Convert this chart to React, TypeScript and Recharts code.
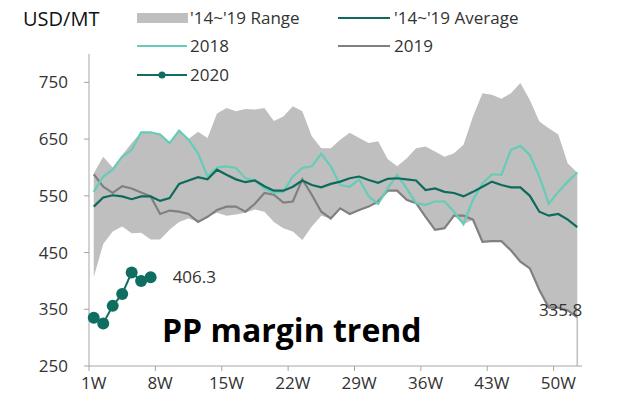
import React from "react";
import { ComposedChart, Area, Line, XAxis, YAxis, ReferenceLine, LabelList } from "recharts";

// week numbers (categories)
const weeks = [
  1, 2, 3, 4, 5, 6, 7, 8, 9, 10, 11, 12, 13, 14, 15, 16, 17, 18, 19, 20, 21, 22, 23, 24, 25, 26,
  27, 28, 29, 30, 31, 32, 33, 34, 35, 36, 37, 38, 39, 40, 41, 42, 43, 44, 45, 46, 47, 48, 49, 50, 51, 52,
];

// '14~'19 range, low and high
const rangeMin = [
  407, 465, 487, 496, 484, 485, 473, 473, 490, 504, 510, 504, 513, 520, 515, 517, 520, 526, 522, 504, 493, 487, 472, 496, 515, 510,
  528, 518, 525, 531, 536, 559, 559, 543, 537, 513, 490, 493, 515, 500, 508, 469, 470, 470, 454, 434, 422, 384, 353, 353, 348, 335.8,
];
const rangeMax = [
  590, 619, 600, 622, 643, 662, 662, 658, 645, 665, 650, 663, 652, 695, 705, 699, 703, 702, 705, 682, 690, 708, 699, 655, 634, 634,
  649, 661, 652, 643, 646, 615, 602, 616, 634, 637, 628, 619, 625, 640, 690, 731, 728, 721, 731, 749, 719, 681, 669, 658, 607, 591,
];

const avg = [
  531, 547, 551, 549, 544, 549, 549, 541, 546, 571, 577, 583, 579, 596, 587, 579, 574, 577, 567, 559, 559, 566, 577, 569, 565, 571,
  575, 581, 584, 578, 573, 580, 581, 579, 577, 560, 563, 557, 555, 549, 557, 566, 575, 569, 565, 565, 550, 522, 515, 518, 508, 495,
];

const y2018 = [
  557, 584, 596, 619, 631, 662, 662, 658, 643, 665, 649, 625, 584, 600, 602, 599, 581, 577, 563, 555, 557, 584, 599, 602, 624, 602,
  569, 566, 579, 549, 536, 563, 587, 563, 537, 534, 540, 540, 522, 500, 543, 572, 588, 587, 631, 638, 622, 584, 536, 557, 575, 591,
];

const y2019 = [
  588, 566, 555, 567, 563, 556, 549, 518, 524, 522, 518, 504, 513, 525, 531, 531, 522, 536, 555, 552, 538, 540, 579, 552, 522, 510,
  528, 518, 525, 531, 540, 559, 559, 543, 537, 513, 490, 493, 515, 515, 508, 469, 470, 470, 454, 434, 422, 384, 353, 353, 348, 335.8,
];

const y2020 = [335, 325, 356, 377, 415, 400, 406.3];

const xTicks = [1, 8, 15, 22, 29, 36, 43, 50];
const yTicks = [250, 350, 450, 550, 650, 750];

const data = weeks.map((w, i) => ({
  week: w,
  range: [rangeMin[i], rangeMax[i]],
  avg: avg[i],
  y2018: y2018[i],
  y2019: y2019[i],
  y2020: i < y2020.length ? y2020[i] : null,
}));

const FONT = "'Open Sans', sans-serif";
const TEXT = "#333";
const RANGE = "#BFBFBF";
const AVG = "#0E6B5C";
const C2018 = "#66CCB8";
const C2019 = "#808080";
const C2020 = "#0F6E60";

const WeekTick = (props: any) => {
  const { x, y, payload } = props;
  return (
    <g>
      <line x1={x - 4.7} x2={x - 4.7} y1={y - 8} y2={y - 3} stroke="#A6A6A6" />
      <text x={x} y={y + 15} textAnchor="middle" fill={TEXT} fontSize={17} fontFamily={FONT}>
        {payload.value}W
      </text>
    </g>
  );
};

const lastLabel = (n: number, dx: number, dy: number, anchor: string) => (p: any) => {
  if (p.index !== n) return null;
  return (
    <text x={p.x + dx} y={p.y + dy} textAnchor={anchor} fill={TEXT} fontSize={17} fontFamily={FONT}>
      {p.value}
    </text>
  );
};

export default function App() {
  return (
    <div style={{ position: "absolute", left: 0, top: 0, width: 628, height: 403, background: "#fff" }}>
      <ComposedChart width={628} height={403} data={data} margin={{ top: 54, right: 46, bottom: 7, left: 0 }}>
        <XAxis
          dataKey="week"
          type="number"
          domain={[0.5, 52.5]}
          ticks={xTicks}
          tick={<WeekTick />}
          tickLine={false}
          axisLine={{ stroke: "#A6A6A6" }}
          height={30}
          interval={0}
        />
        <YAxis
          type="number"
          domain={[250, 800]}
          ticks={yTicks}
          width={89}
          tickSize={5}
          tickMargin={16}
          axisLine={{ stroke: "#A6A6A6" }}
          tickLine={{ stroke: "#A6A6A6" }}
          tick={{ fill: TEXT, fontSize: 17, fontFamily: FONT }}
        />
        <Area dataKey="range" type="linear" fill={RANGE} fillOpacity={1} stroke="none" isAnimationActive={false} />
        <ReferenceLine segment={[{ x: 52, y: 250 }, { x: 52, y: 335.8 }]} stroke="#BFBFBF" strokeWidth={1.5} />
        <Line dataKey="y2019" type="linear" stroke={C2019} strokeWidth={2.2} dot={false} isAnimationActive={false}>
          <LabelList dataKey="y2019" content={lastLabel(51, 5, -1, "end")} />
        </Line>
        <Line dataKey="y2018" type="linear" stroke={C2018} strokeWidth={2.2} dot={false} isAnimationActive={false} />
        <Line dataKey="avg" type="linear" stroke={AVG} strokeWidth={2.2} dot={false} isAnimationActive={false} />
        <Line
          dataKey="y2020"
          type="linear"
          stroke={C2020}
          strokeWidth={2}
          dot={{ r: 6, fill: C2020, stroke: C2020, strokeWidth: 0 }}
          connectNulls={false}
          isAnimationActive={false}
        >
          <LabelList dataKey="y2020" content={lastLabel(6, 22, 6, "start")} />
        </Line>
      </ComposedChart>

      <svg width={628} height={403} style={{ position: "absolute", left: 0, top: 0, pointerEvents: "none" }}>
        <text x={23} y={26} fontSize={20} fill="#111" fontFamily={FONT}>USD/MT</text>

        <rect x={137} y={13} width={51} height={10} fill={RANGE} />
        <text x={190} y={24} fontSize={17} fill={TEXT} fontFamily={FONT}>'14~'19 Range</text>
        <line x1={338} x2={390} y1={18} y2={18} stroke={AVG} strokeWidth={2.2} />
        <text x={394} y={24} fontSize={17} fill={TEXT} fontFamily={FONT}>'14~'19 Average</text>

        <line x1={137} x2={187} y1={46} y2={46} stroke={C2018} strokeWidth={2.2} />
        <text x={190} y={52} fontSize={17} fill={TEXT} fontFamily={FONT}>2018</text>
        <line x1={338} x2={390} y1={46} y2={46} stroke={C2019} strokeWidth={2.2} />
        <text x={394} y={52} fontSize={17} fill={TEXT} fontFamily={FONT}>2019</text>

        <line x1={137} x2={187} y1={75} y2={75} stroke={C2020} strokeWidth={2.2} />
        <circle cx={162} cy={75} r={3.5} fill={C2020} />
        <text x={190} y={81} fontSize={17} fill={TEXT} fontFamily={FONT}>2020</text>

        <text x={162} y={342} fontSize={32} fontWeight="bold" fill="#000" fontFamily={FONT}>PP margin trend</text>
      </svg>
    </div>
  );
}
